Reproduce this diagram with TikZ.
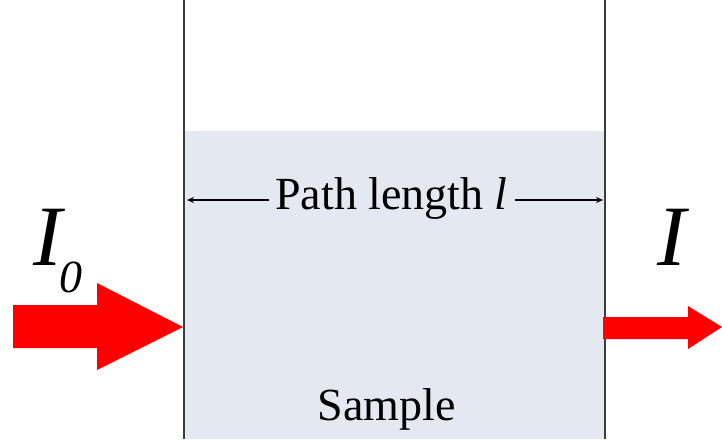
\documentclass[tikz,border=0pt]{standalone}
\usepackage{fontspec}
\setmainfont{Liberation Serif}
\usetikzlibrary{arrows.meta}
\definecolor{samplefill}{RGB}{228,232,240}
\definecolor{beamred}{RGB}{255,0,0}
\definecolor{wallgray}{RGB}{60,60,60}
\tikzset{
  wall/.style={draw=wallgray,line width=1.3pt},
  beam/.style={fill=beamred,draw=none},
  dimarrow/.style={draw=black,line width=1.4pt,-{Stealth[length=7pt,width=6pt]}},
  bigtxt/.style={inner sep=0pt,font=\fontsize{86}{86}\selectfont\itshape},
  subtxt/.style={inner sep=0pt,font=\fontsize{46}{46}\selectfont\itshape},
  midtxt/.style={inner sep=0pt,font=\fontsize{46}{46}\selectfont}
}
\begin{document}
\begin{tikzpicture}[x=1pt,y=-1pt]
\useasboundingbox (0,0) rectangle (722,439);
% sample
\fill[samplefill] (184,131) rectangle (605,439);
\draw[wall] (184,0) -- (184,439);
\draw[wall] (605,0) -- (605,439);
% beams
\fill[beam] (13,305) -- (97,305) -- (97,283) -- (183,327) -- (97,370) -- (97,348) -- (13,348) -- cycle;
\fill[beam] (603,317) -- (688,317) -- (688,306) -- (722,327) -- (688,349) -- (688,339) -- (603,339) -- cycle;
% labels
\node[bigtxt,anchor=base west] (i0) at (33,265) {I};
\node[subtxt,anchor=base west] (sub0) at (59,292) {0};
\node[bigtxt,anchor=base west] (iout) at (657,265) {I};
\node[midtxt,anchor=base] (pl) at (391.5,209) {Path length \textit{l}};
\node[midtxt,anchor=base] (smp) at (386.5,420) {Sample};
% dimension arrows
\coordinate (lend) at (187,200);
\coordinate (rend) at (603,200);
\coordinate (lstart) at (269,200);
\coordinate (rstart) at (515,200);
\draw[dimarrow] (lstart) -- (lend);
\draw[dimarrow] (rstart) -- (rend);
\end{tikzpicture}
\end{document}
